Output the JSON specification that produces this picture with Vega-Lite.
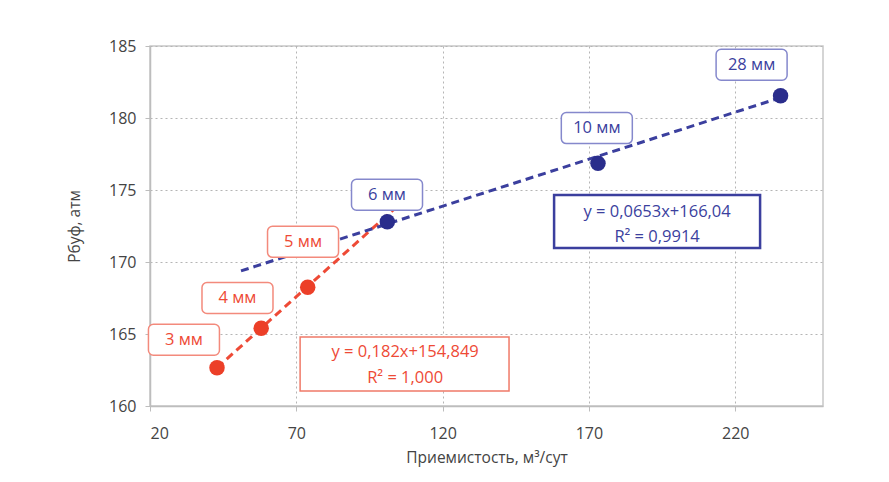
{
  "$schema": "https://vega.github.io/schema/vega-lite/v6.json",
  "width": 673,
  "height": 360,
  "autosize": "none",
  "padding": {"left": 150, "top": 46, "right": 66, "bottom": 76},
  "background": "white",
  "config": {
    "font": "Open Sans",
    "view": {"stroke": "#c8c8c8", "strokeWidth": 1.5},
    "axis": {
      "labelFont": "Open Sans",
      "titleFont": "Open Sans",
      "labelFontSize": 16,
      "titleFontSize": 15.5,
      "labelColor": "#444444",
      "titleColor": "#444444",
      "titleFontWeight": "normal",
      "domainColor": "#bdbdbd",
      "domainWidth": 1.5,
      "tickColor": "#bdbdbd",
      "tickSize": 5,
      "gridColor": "#b5b5b5",
      "gridDash": [2, 3],
      "gridWidth": 1
    }
  },
  "datasets": {
    "points": [
      {"d": "3 мм", "q": 42.9, "p": 162.65, "g": "A", "lq": 31.6, "lp": 164.6},
      {"d": "4 мм", "q": 58.0, "p": 165.4, "g": "A", "lq": 49.9, "lp": 167.5},
      {"d": "5 мм", "q": 73.9, "p": 168.25, "g": "A", "lq": 72.3, "lp": 171.4},
      {"d": "6 мм", "q": 101.1, "p": 172.8, "g": "B", "lq": 101.0, "lp": 174.67},
      {"d": "10 мм", "q": 173.1, "p": 176.85, "g": "B", "lq": 172.7, "lp": 179.3},
      {"d": "28 мм", "q": 235.5, "p": 181.55, "g": "B", "lq": 225.6, "lp": 183.7}
    ],
    "trend": [
      {"g": "A", "q": 42.9, "p": 162.66},
      {"g": "A", "q": 103.5, "p": 173.69},
      {"g": "B", "q": 51.1, "p": 169.38},
      {"g": "B", "q": 234.5, "p": 181.35}
    ],
    "eqbox": [
      {"g": "A", "q1": 71.3, "q2": 142.7, "p1": 161.04, "p2": 164.79},
      {"g": "B", "q1": 158.1, "q2": 228.5, "p1": 170.97, "p2": 174.65}
    ],
    "eqtext": [
      {"g": "A", "t": "y = 0,182x+154,849", "q": 107.2, "p": 163.75},
      {"g": "A", "t": "R² = 1,000", "q": 107.2, "p": 161.94},
      {"g": "B", "t": "y = 0,0653x+166,04", "q": 193.3, "p": 173.47},
      {"g": "B", "t": "R² = 0,9914", "q": 193.3, "p": 171.74}
    ]
  },
  "layer": [
    {
      "data": {"name": "trend"},
      "mark": {"type": "line", "strokeWidth": 3, "strokeDash": [8, 5]},
      "encoding": {
        "x": {"field": "q", "type": "quantitative",
              "scale": {"domain": [20, 250], "nice": false, "zero": false},
              "axis": {"values": [20, 70, 120, 170, 220], "title": "Приемистость, м³/сут", "labelPadding": 14, "titlePadding": 9}},
        "y": {"field": "p", "type": "quantitative",
              "scale": {"domain": [160, 185], "nice": false, "zero": false},
              "axis": {"values": [160, 165, 170, 175, 180, 185], "title": "Рбуф, атм", "labelPadding": 9, "titlePadding": 26}},
        "color": {"field": "g", "type": "nominal", "legend": null,
                  "scale": {"domain": ["A", "B"], "range": ["#ee4a36", "#3b3f9e"]}}
      }
    },
    {
      "data": {"name": "points"},
      "mark": {"type": "circle", "size": 240, "opacity": 1},
      "encoding": {
        "x": {"field": "q", "type": "quantitative"},
        "y": {"field": "p", "type": "quantitative"},
        "color": {"field": "g", "type": "nominal", "legend": null,
                  "scale": {"domain": ["A", "B"], "range": ["#ec3f28", "#2a2d8c"]}}
      }
    },
    {
      "data": {"name": "points"},
      "mark": {"type": "rect", "width": 71, "height": 31, "cornerRadius": 5, "fill": "white", "strokeWidth": 1.5},
      "encoding": {
        "x": {"field": "lq", "type": "quantitative"},
        "y": {"field": "lp", "type": "quantitative"},
        "stroke": {"field": "g", "type": "nominal", "legend": null,
                   "scale": {"domain": ["A", "B"], "range": ["#f38a7c", "#8588cc"]}}
      }
    },
    {
      "data": {"name": "points"},
      "mark": {"type": "text", "fontSize": 16.5, "font": "Open Sans"},
      "encoding": {
        "x": {"field": "lq", "type": "quantitative"},
        "y": {"field": "lp", "type": "quantitative"},
        "text": {"field": "d"},
        "color": {"field": "g", "type": "nominal", "legend": null,
                  "scale": {"domain": ["A", "B"], "range": ["#ee4a36", "#3b3f9e"]}}
      }
    },
    {
      "data": {"name": "eqbox"},
      "mark": {"type": "rect", "fill": "white"},
      "encoding": {
        "x": {"field": "q1", "type": "quantitative"},
        "x2": {"field": "q2"},
        "y": {"field": "p1", "type": "quantitative"},
        "y2": {"field": "p2"},
        "stroke": {"field": "g", "type": "nominal", "legend": null,
                   "scale": {"domain": ["A", "B"], "range": ["#f07a68", "#3b3f9e"]}},
        "strokeWidth": {"field": "g", "type": "nominal", "legend": null,
                        "scale": {"domain": ["A", "B"], "range": [1.5, 2.5]}}
      }
    },
    {
      "data": {"name": "eqtext"},
      "mark": {"type": "text", "fontSize": 16.5, "font": "Open Sans"},
      "encoding": {
        "x": {"field": "q", "type": "quantitative"},
        "y": {"field": "p", "type": "quantitative"},
        "text": {"field": "t"},
        "color": {"field": "g", "type": "nominal", "legend": null,
                  "scale": {"domain": ["A", "B"], "range": ["#ee4a36", "#3b3f9e"]}}
      }
    }
  ],
  "resolve": {"scale": {"color": "independent", "stroke": "independent"}}
}
